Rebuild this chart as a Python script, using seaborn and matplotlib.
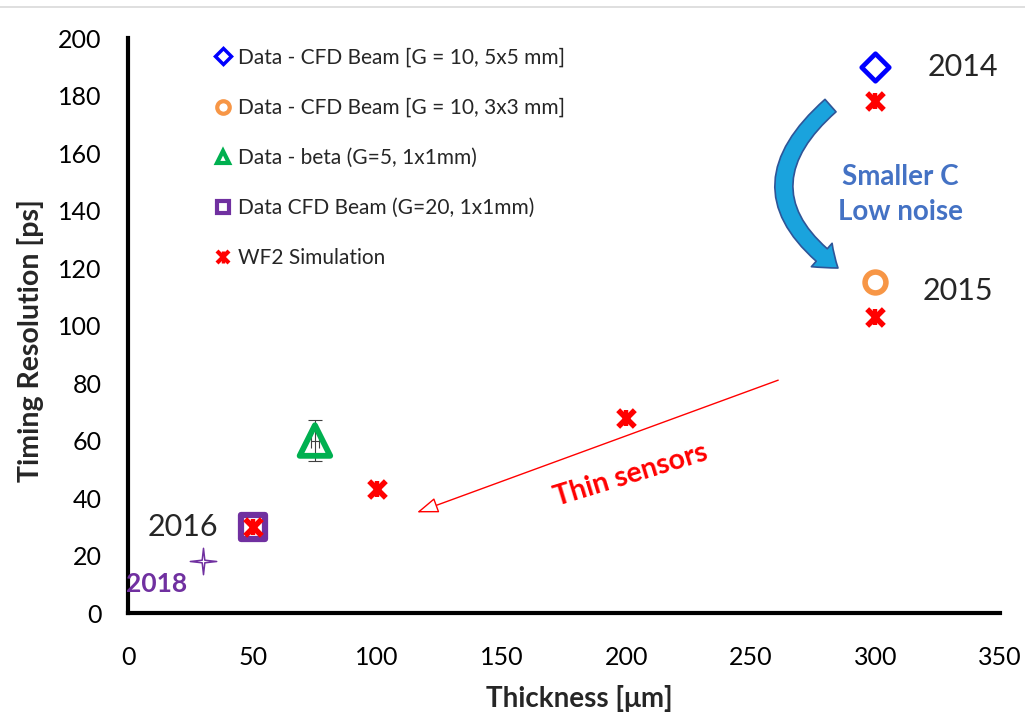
import matplotlib
matplotlib.use("Agg")
import matplotlib.pyplot as plt
from matplotlib.lines import Line2D
from matplotlib.patches import FancyArrowPatch
from matplotlib.path import Path
from matplotlib.legend_handler import HandlerTuple
import seaborn as sns
import pandas as pd
import numpy as np

# Measured timing resolution vs sensor thickness
cfd_5x5_x = [300]
cfd_5x5_y = [190]
cfd_3x3_x = [300]
cfd_3x3_y = [115]
beta_x = [75]
beta_y = [60]
beta_err = [7]
cfd_1x1_x = [50]
cfd_1x1_y = [30]
sim_x = [300, 300, 200, 100, 50]
sim_y = [178, 103, 68, 43, 30]
proj_x = [30]
proj_y = [18]

labels = [
    "Data - CFD Beam [G = 10, 5x5 mm]",
    "Data - CFD Beam [G = 10, 3x3 mm]",
    "Data - beta (G=5, 1x1mm)",
    "Data CFD Beam (G=20, 1x1mm)",
    "WF2 Simulation",
]

sns.set_style("white")
plt.rcParams["font.family"] = ["Lato", "DejaVu Sans"]

BLUE = "#0000FF"
ORANGE = "#F79646"
GREEN = "#00B050"
PURPLE = "#7030A0"
RED = "#FF0000"

# slim four-pointed star for the projected point
ang = np.arange(8) * np.pi / 4 + np.pi / 2
rad = np.where(np.arange(8) % 2 == 0, 1.0, 0.14)
star_verts = np.column_stack([rad * np.cos(ang), rad * np.sin(ang)])
star_verts = np.vstack([star_verts, star_verts[:1]])
STAR = Path(star_verts, closed=True)

fig = plt.figure(figsize=(10.25, 7.12), dpi=100)
ax = fig.add_axes([0.125, 0.139, 0.8505, 0.8076])

# light frame line along the top of the canvas
fig.add_artist(Line2D([0, 1], [0.99, 0.99], transform=fig.transFigure,
                      color="#D9D9D9", lw=1.2))

def pts(xs, ys):
    return pd.DataFrame({"x": xs, "y": ys})

# error bar of the beta measurement (drawn under the marker)
ax.errorbar(beta_x, beta_y, yerr=beta_err, xerr=[1.5], fmt="none",
            ecolor="#404040", elinewidth=0.8, capsize=5, capthick=0.8, zorder=2)

sns.scatterplot(data=pts(cfd_5x5_x, cfd_5x5_y), x="x", y="y", ax=ax,
                marker="D", s=14**2, facecolor="white", edgecolor=BLUE,
                linewidth=3.4, zorder=4)
sns.scatterplot(data=pts(cfd_3x3_x, cfd_3x3_y), x="x", y="y", ax=ax,
                marker="o", s=15**2, facecolor="white", edgecolor=ORANGE,
                linewidth=4, zorder=4)
sns.scatterplot(data=pts(beta_x, beta_y), x="x", y="y", ax=ax,
                marker="^", s=22**2, facecolor="none", edgecolor=GREEN,
                linewidth=4.2, zorder=3)
sns.scatterplot(data=pts(cfd_1x1_x, cfd_1x1_y), x="x", y="y", ax=ax,
                marker="s", s=17**2, facecolor="white", edgecolor=PURPLE,
                linewidth=4.5, zorder=4)
# simulation marker: bold cross with a vertical stroke
sns.scatterplot(data=pts(sim_x, sim_y), x="x", y="y", ax=ax,
                marker="x", s=12**2, color=RED, linewidth=4.0, zorder=5)
sns.scatterplot(data=pts(sim_x, sim_y), x="x", y="y", ax=ax,
                marker="|", s=12**2, color=RED, linewidth=3.2, zorder=5)
sns.scatterplot(data=pts(proj_x, proj_y), x="x", y="y", ax=ax,
                marker=STAR, s=19**2, facecolor="white", edgecolor=PURPLE,
                linewidth=1.1, zorder=4)

ax.set_xlim(0, 350)
ax.set_ylim(0, 200)
ax.set_xticks(range(0, 351, 50))
ax.set_yticks(range(0, 201, 20))
sns.despine(ax=ax)
for side in ("left", "bottom"):
    ax.spines[side].set_linewidth(3)
    ax.spines[side].set_color("black")
ax.tick_params(axis="both", direction="out", length=8, width=2.5,
               colors="black", labelsize=18)
ax.tick_params(axis="y", pad=11)
ax.tick_params(axis="x", pad=16)
ax.set_xlabel("Thickness [μm]", fontsize=20, fontweight="bold")
ax.set_ylabel("Timing Resolution [ps]", fontsize=20.5, fontweight="bold")
ax.xaxis.set_label_coords(0.518, -0.125)
ax.yaxis.set_label_coords(-0.097, 0.473)

# legend
h1 = Line2D([], [], ls="none", marker="D", ms=8, mfc="white", mec=BLUE, mew=2.5)
h2 = Line2D([], [], ls="none", marker="o", ms=9, mfc="white", mec=ORANGE, mew=3)
h3 = Line2D([], [], ls="none", marker="^", ms=9, mfc="white", mec=GREEN, mew=3)
h4 = Line2D([], [], ls="none", marker="s", ms=9, mfc="white", mec=PURPLE, mew=3)
h5a = Line2D([], [], ls="none", marker="x", ms=8, color=RED, mew=3)
h5b = Line2D([], [], ls="none", marker="|", ms=8, color=RED, mew=2.5)
leg = ax.legend([h1, h2, h3, h4, (h5a, h5b)], labels,
                handler_map={tuple: HandlerTuple(ndivide=1, pad=0)},
                loc="upper left", bbox_to_anchor=(0.085, 1.005), frameon=False,
                fontsize=15, handlelength=0.8, handletextpad=0.3,
                labelspacing=1.45, borderaxespad=0.2)

# year annotations
ax.text(321, 190, "2014", fontsize=22, va="center", ha="left")
ax.text(319, 112, "2015", fontsize=22, va="center", ha="left")
ax.text(8, 30, "2016", fontsize=22, va="center", ha="left")
ax.text(-1, 10, "2018", fontsize=19, va="center", ha="left",
        color=PURPLE, fontweight="bold")

ax.text(310, 151.5, "Smaller C", fontsize=20, fontweight="bold",
        color="#4472C4", ha="center", va="center")
ax.text(310, 139.5, "Low noise", fontsize=20, fontweight="bold",
        color="#4472C4", ha="center", va="center")

# curved arrow from 2014 to 2015
curve = FancyArrowPatch((282, 176.5), (285, 120),
                        connectionstyle="arc3,rad=0.62",
                        arrowstyle="simple,head_length=1.0,head_width=1.5,tail_width=0.8",
                        mutation_scale=15, facecolor="#1AA3DD",
                        edgecolor="#2F5597", lw=1.2, zorder=3,
                        shrinkA=0, shrinkB=0)
ax.add_patch(curve)

# thin red arrow towards thinner sensors
thin = FancyArrowPatch((261, 81), (116, 35),
                       arrowstyle="-|>,head_length=1.1,head_width=0.4",
                       mutation_scale=12, facecolor="white", edgecolor=RED,
                       lw=1.0, zorder=3, shrinkA=0, shrinkB=0)
ax.add_patch(thin)
ax.text(202, 48, "Thin sensors", fontsize=20.5, fontweight="bold", color=RED,
        rotation=17, ha="center", va="center", rotation_mode="anchor")

fig.savefig("out.png", dpi=100)
